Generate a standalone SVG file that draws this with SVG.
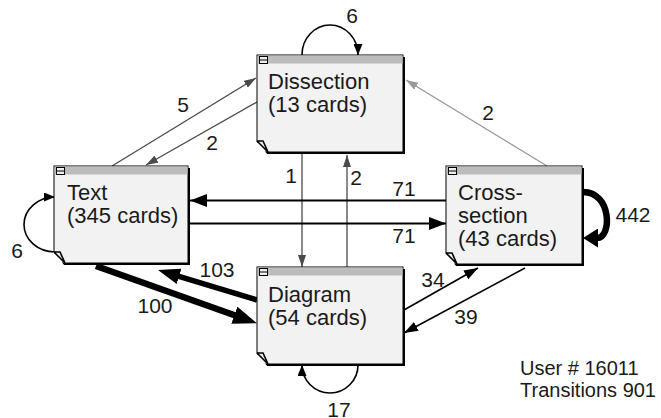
<svg xmlns="http://www.w3.org/2000/svg" width="661" height="418" viewBox="0 0 661 418">
<style>
.shadow{fill:#000}
.body{fill:#f2f2f2;stroke:#000;stroke-width:1}
.bar{fill:#bcbcbc}
.icon{fill:#eee;stroke:#000;stroke-width:1}
.cut{fill:#fff}
.fold{fill:none;stroke:#000;stroke-width:1.6}
.ntext{font-family:"Liberation Sans",Arial,sans-serif;font-size:22px;fill:#1a1a1a}
.lbl{font-family:"Liberation Sans",Arial,sans-serif;font-size:21px;fill:#1a1a1a;text-anchor:middle}
.info{font-family:"Liberation Sans",Arial,sans-serif;font-size:20px;fill:#1a1a1a}
.dg{fill:none;stroke:#4a4a4a;stroke-width:1.3}
.lg{fill:none;stroke:#9a9a9a;stroke-width:1.3}
.k{fill:none;stroke:#000;stroke-width:1.6}
.k2{fill:none;stroke:#000;stroke-width:2}
</style>
<defs>
<marker id="m-dg" markerUnits="userSpaceOnUse" markerWidth="12" markerHeight="8" refX="12" refY="4" orient="auto"><path d="M0,0 L12,4 L0,8 z" fill="#4a4a4a"/></marker>
<marker id="m-lg" markerUnits="userSpaceOnUse" markerWidth="12" markerHeight="8" refX="12" refY="4" orient="auto"><path d="M0,0 L12,4 L0,8 z" fill="#9a9a9a"/></marker>
<marker id="m-k" markerUnits="userSpaceOnUse" markerWidth="14" markerHeight="10" refX="14" refY="5" orient="auto"><path d="M0,0 L14,5 L0,10 z" fill="#000"/></marker>
<marker id="m-k71" markerUnits="userSpaceOnUse" markerWidth="17" markerHeight="13" refX="17" refY="6.5" orient="auto"><path d="M0,0 L17,6.5 L0,13 z" fill="#000"/></marker>
<marker id="m-loop" markerUnits="userSpaceOnUse" markerWidth="11" markerHeight="9" refX="11" refY="4.5" orient="auto"><path d="M0,0 L11,4.5 L0,9 z" fill="#000"/></marker>
<marker id="m-big" markerUnits="userSpaceOnUse" markerWidth="24" markerHeight="18" refX="1" refY="9" orient="auto"><path d="M0,0 L24,9 L0,18 z" fill="#000"/></marker>
<marker id="m-big2" markerUnits="userSpaceOnUse" markerWidth="22" markerHeight="16" refX="1" refY="8" orient="auto"><path d="M0,0 L22,8 L0,16 z" fill="#000"/></marker>
<marker id="m-442" markerUnits="userSpaceOnUse" markerWidth="15" markerHeight="19" refX="1" refY="9.5" orient="auto"><path d="M0,0 L15,9.5 L0,19 z" fill="#000"/></marker>
</defs>

<g id="connectors">
<path class="dg" d="M112,166 L256,78" marker-end="url(#m-dg)"/>
<path class="dg" d="M257,102 L146,165" marker-end="url(#m-dg)"/>
<path class="lg" d="M547,166 L406,80" marker-end="url(#m-lg)"/>
<path class="dg" d="M302,153 L302,267" marker-end="url(#m-dg)"/>
<path class="dg" d="M347,267 L347,155" marker-end="url(#m-dg)"/>
<path class="k2" d="M446,200.5 L190,200.5" marker-end="url(#m-k71)"/>
<path class="k2" d="M190,223.5 L446,223.5" marker-end="url(#m-k71)"/>
<path fill="none" stroke="#000" stroke-width="6.5" d="M96,266 L235.3,315.5" marker-end="url(#m-big)"/>
<path fill="none" stroke="#000" stroke-width="5.5" d="M257,300 L178.1,276.1" marker-end="url(#m-big2)"/>
<path class="k" d="M404,310 L478,268" marker-end="url(#m-k)"/>
<path class="k" d="M525,268 L404,333" marker-end="url(#m-k)"/>
<path class="k" d="M302,55 A28,30 0 0 1 358,55" marker-end="url(#m-loop)"/>
<path class="k" d="M55,252 A31,27.5 0 0 1 55,197" marker-end="url(#m-loop)"/>
<path class="k" d="M358,365 A28,28 0 0 1 302,365" marker-end="url(#m-loop)"/>
<path fill="none" stroke="#000" stroke-width="6.5" d="M583,192 C612,192 612,238 597,238" marker-end="url(#m-442)"/>
<text class="lbl" x="352" y="23">6</text>
<text class="lbl" x="183" y="112">5</text>
<text class="lbl" x="212" y="150">2</text>
<text class="lbl" x="488" y="120">2</text>
<text class="lbl" x="291" y="183">1</text>
<text class="lbl" x="356" y="185">2</text>
<text class="lbl" x="404" y="196">71</text>
<text class="lbl" x="404" y="243">71</text>
<text class="lbl" x="17" y="258">6</text>
<text class="lbl" x="633" y="222">442</text>
<text class="lbl" x="217" y="277">103</text>
<text class="lbl" x="155" y="313">100</text>
<text class="lbl" x="433" y="287">34</text>
<text class="lbl" x="466" y="324">39</text>
<text class="lbl" x="339" y="417">17</text>
</g>

<g id="dissection">
<rect class="shadow" x="259" y="57" width="146" height="97"/>
<rect class="body" x="257" y="55" width="146" height="97"/>
<rect class="bar" x="257.5" y="55.5" width="145" height="8"/>
<rect class="icon" x="259.5" y="56.5" width="8" height="7"/>
<line class="icon" x1="259.5" y1="60" x2="267.5" y2="60"/>
<path class="cut" d="M256,141 L268,155 L256,155 z"/>
<path class="fold" d="M257,141 L268,152 M257,141 H263 L268,152"/>
<text class="ntext" x="268" y="89">Dissection</text>
<text class="ntext" x="268" y="112">(13 cards)</text>
</g>

<g id="text">
<rect class="shadow" x="56" y="168" width="134" height="97"/>
<rect class="body" x="54" y="166" width="134" height="97"/>
<rect class="bar" x="54.5" y="166.5" width="133" height="8"/>
<rect class="icon" x="56.5" y="167.5" width="8" height="7"/>
<line class="icon" x1="56.5" y1="171" x2="64.5" y2="171"/>
<path class="cut" d="M53,252 L65,266 L53,266 z"/>
<path class="fold" d="M54,252 L65,263 M54,252 H60 L65,263"/>
<text class="ntext" x="67" y="200">Text</text>
<text class="ntext" x="67" y="223">(345 cards)</text>
</g>

<g id="cross-section">
<rect class="shadow" x="448" y="168" width="136" height="98"/>
<rect class="body" x="446" y="166" width="136" height="98"/>
<rect class="bar" x="446.5" y="166.5" width="135" height="8"/>
<rect class="icon" x="448.5" y="167.5" width="8" height="7"/>
<line class="icon" x1="448.5" y1="171" x2="456.5" y2="171"/>
<path class="cut" d="M445,253 L457,267 L445,267 z"/>
<path class="fold" d="M446,253 L457,264 M446,253 H452 L457,264"/>
<text class="ntext" x="458" y="200">Cross-</text>
<text class="ntext" x="458" y="223">section</text>
<text class="ntext" x="458" y="246">(43 cards)</text>
</g>

<g id="diagram">
<rect class="shadow" x="259" y="269" width="146" height="97"/>
<rect class="body" x="257" y="267" width="146" height="97"/>
<rect class="bar" x="257.5" y="267.5" width="145" height="8"/>
<rect class="icon" x="259.5" y="268.5" width="8" height="7"/>
<line class="icon" x1="259.5" y1="272" x2="267.5" y2="272"/>
<path class="cut" d="M256,353 L268,367 L256,367 z"/>
<path class="fold" d="M257,353 L268,364 M257,353 H263 L268,364"/>
<text class="ntext" x="268" y="302">Diagram</text>
<text class="ntext" x="268" y="325">(54 cards)</text>
</g>

<g id="info">
<text class="info" x="520" y="375">User # 16011</text>
<text class="info" x="520" y="397">Transitions 901</text>
</g>
</svg>
